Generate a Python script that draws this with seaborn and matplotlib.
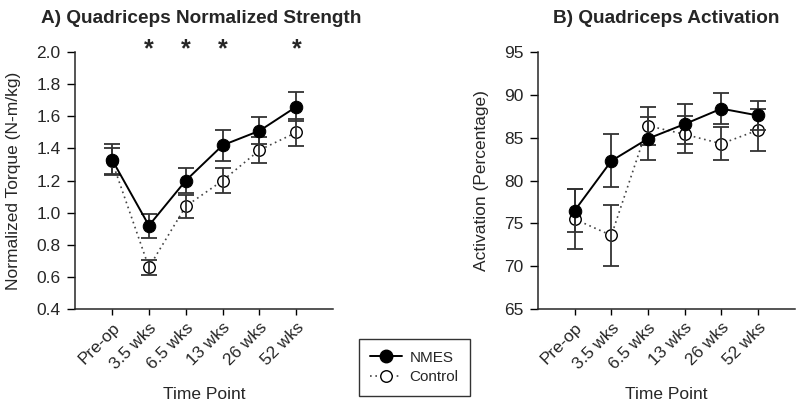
import numpy as np
import pandas as pd
import matplotlib
matplotlib.use("Agg")
import matplotlib.pyplot as plt
import seaborn as sns
from matplotlib.lines import Line2D
from matplotlib.transforms import blended_transform_factory

# ---------------- data ----------------
time_points = ["Pre-op", "3.5 wks", "6.5 wks", "13 wks", "26 wks", "52 wks"]

strength_nmes = [1.33, 0.92, 1.20, 1.42, 1.51, 1.66]
strength_nmes_err = [0.095, 0.075, 0.08, 0.095, 0.085, 0.09]
strength_ctrl = [1.32, 0.66, 1.04, 1.20, 1.39, 1.50]
strength_ctrl_err = [0.08, 0.045, 0.07, 0.08, 0.08, 0.085]
significant = ["3.5 wks", "6.5 wks", "13 wks", "52 wks"]

activation_nmes = [76.5, 82.3, 84.9, 86.6, 88.4, 87.6]
activation_nmes_err = [2.5, 3.1, 2.5, 2.35, 1.8, 1.65]
activation_ctrl = [75.5, 73.6, 86.4, 85.4, 84.3, 85.9]
activation_ctrl_err = [3.5, 3.55, 2.2, 2.15, 1.95, 2.5]

strength_ticks = [0.4, 0.6, 0.8, 1.0, 1.2, 1.4, 1.6, 1.8, 2.0]
activation_ticks = [65, 70, 75, 80, 85, 90, 95]

# ---------------- style ----------------
sns.set_theme(style="ticks")
plt.rcParams["font.family"] = ["Liberation Sans", "DejaVu Sans"]
plt.rcParams["axes.linewidth"] = 1.1

fig = plt.figure(figsize=(8.0, 4.04), dpi=100)
axA = fig.add_axes([0.094, 0.235, 0.3225, 0.636])
axB = fig.add_axes([0.6725, 0.235, 0.321, 0.636])

err_color = "#333333"


def draw_panel(ax, nmes, nmes_err, ctrl, ctrl_err):
    df_n = pd.DataFrame({"time": time_points, "value": nmes})
    df_c = pd.DataFrame({"time": time_points, "value": ctrl})
    xs = np.arange(len(time_points))
    sns.lineplot(data=df_c, x="time", y="value", ax=ax, color="#444444",
                 linestyle=(0, (1, 2.2)), linewidth=1.2, marker="o",
                 markersize=8.3, markerfacecolor="white",
                 markeredgecolor="black", markeredgewidth=1.0,
                 sort=False, zorder=2)
    ax.errorbar(xs, ctrl, yerr=ctrl_err, fmt="none", ecolor=err_color,
                elinewidth=1.3, capsize=5.5, capthick=1.3, zorder=3)
    ax.errorbar(xs, nmes, yerr=nmes_err, fmt="none", ecolor=err_color,
                elinewidth=1.3, capsize=5.5, capthick=1.3, zorder=3)
    sns.lineplot(data=df_n, x="time", y="value", ax=ax, color="black",
                 linestyle="-", linewidth=1.4, marker="o",
                 markersize=9, markerfacecolor="black",
                 markeredgecolor="black", sort=False, zorder=4)
    ax.set_xlim(-1, 6)
    ax.set_xticks(xs)
    ax.set_xticklabels(time_points, rotation=45, ha="right",
                       rotation_mode="anchor", fontsize=12.3)
    ax.set_xlabel("Time Point", fontsize=12.5, labelpad=11)
    ax.tick_params(axis="x", direction="out", length=4, width=1.0,
                   color="black", labelsize=12.3, pad=4)
    ax.tick_params(axis="y", direction="out", length=5.5, width=1.0,
                   color="black", labelsize=12.5, pad=5)
    sns.despine(ax=ax)
    ax.grid(False)


draw_panel(axA, strength_nmes, strength_nmes_err, strength_ctrl, strength_ctrl_err)
axA.set_ylim(0.4, 2.0)
axA.set_yticks(strength_ticks)
axA.set_yticklabels([f"{t:.1f}" for t in strength_ticks])
axA.set_ylabel("Normalized Torque (N-m/kg)", fontsize=12.5, labelpad=11)
axA.set_title("A) Quadriceps Normalized Strength", fontsize=13.7,
              fontweight="bold", pad=21, x=0.488)
trans = blended_transform_factory(axA.transData, axA.transAxes)
for t in significant:
    axA.text(time_points.index(t), 0.965, "*", transform=trans, ha="center",
             va="bottom", fontsize=18, fontweight="bold", clip_on=False)

draw_panel(axB, activation_nmes, activation_nmes_err, activation_ctrl, activation_ctrl_err)
axB.set_ylim(65, 95)
axB.set_yticks(activation_ticks)
axB.set_ylabel("Activation (Percentage)", fontsize=12.5, labelpad=11)
axB.set_title("B) Quadriceps Activation", fontsize=13.7,
              fontweight="bold", pad=21, x=0.498)

handles = [
    Line2D([], [], color="black", linestyle="-", linewidth=1.4, marker="o",
           markersize=9, markerfacecolor="black"),
    Line2D([], [], color="#444444", linestyle=(0, (1, 2.2)), linewidth=1.2,
           marker="o", markersize=8.3, markerfacecolor="white",
           markeredgecolor="black"),
]
leg = fig.legend(handles, ["NMES", "Control"], loc="center",
                 bbox_to_anchor=(0.518, 0.0903), fontsize=11, frameon=True,
                 fancybox=False, edgecolor="black", handlelength=2.05,
                 handletextpad=0.5, borderpad=0.75, labelspacing=0.35)
leg.get_frame().set_linewidth(1.0)

fig.savefig("out.png", dpi=100)
